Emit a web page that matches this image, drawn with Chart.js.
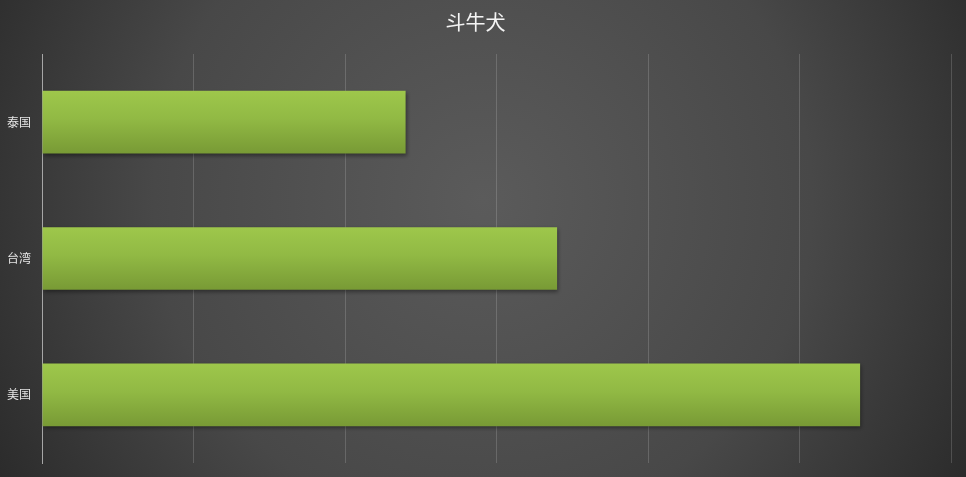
<!DOCTYPE html>
<html>
<head>
<meta charset="utf-8">
<script src="https://cdn.jsdelivr.net/npm/chart.js@4/dist/chart.umd.min.js"></script>
<style>
  html, body { margin: 0; padding: 0; background: #333; }
  #wrap { width: 966px; height: 477px; }
</style>
</head>
<body>
<div id="wrap"><canvas id="c" width="966" height="477"></canvas></div>
<script>
const categories = ["泰国", "台湾", "美国"];
const values = [2.4, 3.4, 5.4];
const xMax = 6;
const chartTitle = "斗牛犬";

const BAR_PCT = 0.46;

const backdrop = {
  id: "backdrop",
  beforeDraw(chart) {
    const { ctx, width, height } = chart;
    const g = ctx.createRadialGradient(width / 2, height * 0.42, 0, width / 2, height * 0.42, width * 0.62);
    g.addColorStop(0, "#5b5b5b");
    g.addColorStop(0.55, "#484848");
    g.addColorStop(1, "#262626");
    ctx.save();
    ctx.fillStyle = g;
    ctx.fillRect(0, 0, width, height);
    ctx.restore();
  }
};

const barShadow = {
  id: "barShadow",
  beforeDatasetsDraw(chart) {
    const ctx = chart.ctx;
    ctx.save();
    ctx.shadowColor = "rgba(0,0,0,0.4)";
    ctx.shadowBlur = 4;
    ctx.shadowOffsetX = 1;
    ctx.shadowOffsetY = 2;
  },
  afterDatasetsDraw(chart) {
    chart.ctx.restore();
  }
};

function barFill(context) {
  const chart = context.chart;
  const y = chart.scales.y;
  if (!chart.chartArea || !y) return "#8db342";
  const center = y.getPixelForValue(context.dataIndex);
  const half = (chart.chartArea.height / categories.length) * BAR_PCT / 2;
  const g = chart.ctx.createLinearGradient(0, center - half, 0, center + half);
  g.addColorStop(0, "#9ec74b");
  g.addColorStop(0.45, "#91b944");
  g.addColorStop(1, "#789a35");
  return g;
}

new Chart(document.getElementById("c"), {
  type: "bar",
  data: {
    labels: categories,
    datasets: [{
      data: values,
      backgroundColor: barFill,
      borderWidth: 0,
      barPercentage: BAR_PCT,
      categoryPercentage: 1
    }]
  },
  options: {
    indexAxis: "y",
    animation: false,
    responsive: false,
    layout: { padding: { right: 15 } },
    plugins: {
      legend: { display: false },
      tooltip: { enabled: false },
      title: {
        display: true,
        text: chartTitle,
        color: "#f4f4f4",
        font: { family: "'Noto Sans CJK SC'", size: 20, weight: "normal" },
        padding: { top: 10, bottom: 20 }
      }
    },
    scales: {
      x: {
        min: 0,
        max: xMax,
        ticks: { display: false, stepSize: 1 },
        grid: { color: "rgba(255,255,255,0.16)", drawTicks: false },
        border: { display: false },
        afterFit(scale) { scale.height = 14; }
      },
      y: {
        ticks: {
          color: "#e6e6e6",
          padding: 11,
          // small lineHeight keeps the label box from pushing the plot area up
          font: { family: "'Noto Sans CJK SC'", size: 12, lineHeight: 0.5 }
        },
        grid: { display: false, drawTicks: false },
        border: { display: true, color: "#a6a6a6", width: 1 },
        afterFit(scale) { scale.width = 42; }
      }
    }
  },
  plugins: [backdrop, barShadow]
});
</script>
</body>
</html>
